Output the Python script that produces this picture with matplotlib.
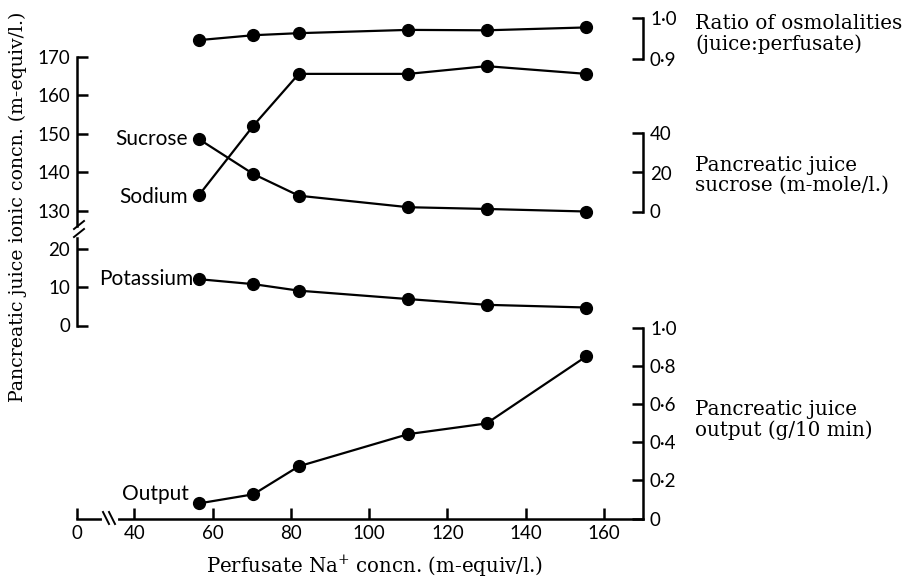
import matplotlib
matplotlib.use('Agg')
import matplotlib.pyplot as plt
from matplotlib.lines import Line2D

# perfusate Na+ (m-equiv/l.)
perfusate_na = [56.4, 70.4, 82, 110, 130, 155.5]
# ratio of osmolalities juice:perfusate
osm_ratio = [0.946, 0.958, 0.963, 0.971, 0.970, 0.977]
# juice sodium (m-equiv/l.)
sodium = [134.0, 152.1, 165.5, 165.5, 167.5, 165.5]
# juice sucrose (m-mole/l.)
sucrose = [37.2, 19.2, 8.1, 2.2, 1.3, 0.0]
# juice potassium (m-equiv/l.)
potassium = [12.1, 10.8, 9.1, 6.9, 5.4, 4.7]
# juice output (g/10 min)
output = [0.079, 0.127, 0.274, 0.443, 0.499, 0.851]

x_ticks = [40, 60, 80, 100, 120, 140, 160]
x_zero_pos = 25.3   # where the "0" of the broken x axis sits

plt.rcParams['font.family'] = ['Lato', 'DejaVu Sans']
plt.rcParams['mathtext.fontset'] = 'dejavuserif'
SERIF = 'DejaVu Serif'

W, H = 907, 579
fig = plt.figure(figsize=(W / 100, H / 100), dpi=100)
LW = 1.8


def add_px(top, bottom, sharex=None, left=77, right=643):
    ax = fig.add_axes([left / W, 1 - bottom / H, (right - left) / W, (bottom - top) / H],
                      sharex=sharex)
    ax.patch.set_visible(False)
    for s in ax.spines.values():
        s.set_visible(False)
        s.set_linewidth(LW)
    return ax


def style_y(ax, side, ticks, labels):
    if side == 'right':
        ax.yaxis.tick_right()
    ax.spines[side].set_visible(True)
    ax.set_yticks(ticks)
    ax.set_yticklabels(labels)
    ax.tick_params(axis='y', direction='in', length=8, width=LW, pad=5, labelsize=13.5)
    if ax is not ax_out:
        ax.tick_params(axis='x', which='both', bottom=False, labelbottom=False)


line_kw = dict(color='black', lw=1.6, marker='o', ms=8.5, clip_on=False)

# output panel (owns the x axis)
ax_out = add_px(328, 518.5)
ax_out.set_xlim(x_zero_pos, 170)
ax_out.set_ylim(0, 1)
ax_out.spines['bottom'].set_visible(True)
ax_out.set_xticks([x_zero_pos] + x_ticks)
ax_out.set_xticklabels(['0'] + [str(t) for t in x_ticks])
ax_out.tick_params(axis='x', direction='in', length=8, width=LW, pad=5, labelsize=13.5)
style_y(ax_out, 'right', [0, 0.2, 0.4, 0.6, 0.8, 1.0],
        ['0', '0·2', '0·4', '0·6', '0·8', '1·0'])
ax_out.plot(perfusate_na, output, **line_kw)

# potassium (lower part of ionic axis)
ax_lo = add_px(238, 325.5, sharex=ax_out)
ax_lo.set_ylim(0, 22.85)
style_y(ax_lo, 'left', [0, 10, 20], ['0', '10', '20'])
ax_lo.plot(perfusate_na, potassium, **line_kw)

# sodium (upper part of ionic axis)
ax_hi = add_px(56.5, 226, sharex=ax_out)
ax_hi.set_ylim(126.1, 170)
style_y(ax_hi, 'left', [130, 140, 150, 160, 170], ['130', '140', '150', '160', '170'])
ax_hi.plot(perfusate_na, sodium, **line_kw)

# sucrose
ax_suc = add_px(133.5, 211.5, sharex=ax_out)
ax_suc.set_ylim(0, 40)
style_y(ax_suc, 'right', [0, 20, 40], ['0', '20', '40'])
ax_suc.plot(perfusate_na, sucrose, **line_kw)

# osmolality ratio
ax_osm = add_px(18, 59, sharex=ax_out)
ax_osm.set_ylim(0.9, 1.0)
style_y(ax_osm, 'right', [0.9, 1.0], ['0·9', '1·0'])
ax_osm.plot(perfusate_na, osm_ratio, **line_kw)

# curve labels
lab_kw = dict(textcoords='offset points', ha='right', va='center', fontsize=15)
ax_suc.annotate('Sucrose', (perfusate_na[0], sucrose[0]), xytext=(-8, 0), **lab_kw)
ax_hi.annotate('Sodium', (perfusate_na[0], sodium[0]), xytext=(-8, -1), **lab_kw)
ax_lo.annotate('Potassium', (perfusate_na[0], potassium[0]), xytext=(-4, 0), **lab_kw)
ax_out.annotate('Output', (perfusate_na[0], output[0]), xytext=(-7, 7), **lab_kw)


# break marks
def px_line(xs, ys, color='black', lw=1.4):
    fig.add_artist(Line2D([x / W for x in xs], [1 - y / H for y in ys],
                          transform=fig.transFigure, color=color, lw=lw))


px_line([74, 84], [229, 221])
px_line([74, 84], [237, 229])
px_line([104, 116], [518.5, 518.5], color='white', lw=3)
px_line([103, 109], [512, 524])
px_line([109, 115], [512, 524])

# axis titles
fig.text(18 / W, 1 - 207 / H, 'Pancreatic juice ionic concn. (m-equiv/l.)',
         rotation=90, ha='center', va='center', family=SERIF, fontsize=13.6)
fig.text(375 / W, 1 - 566 / H, 'Perfusate Na$^{+}$ concn. (m-equiv/l.)',
         ha='center', va='center', family=SERIF, fontsize=14.2)

side_kw = dict(ha='left', va='center', family=SERIF, fontsize=14.3, linespacing=1.05)
fig.text(695 / W, 1 - 34 / H, 'Ratio of osmolalities\n(juice:perfusate)', **side_kw)
fig.text(695 / W, 1 - 175 / H, 'Pancreatic juice\nsucrose (m-mole/l.)', **side_kw)
fig.text(695 / W, 1 - 420 / H, 'Pancreatic juice\noutput (g/10 min)', **side_kw)

fig.savefig('out.png', dpi=100)
